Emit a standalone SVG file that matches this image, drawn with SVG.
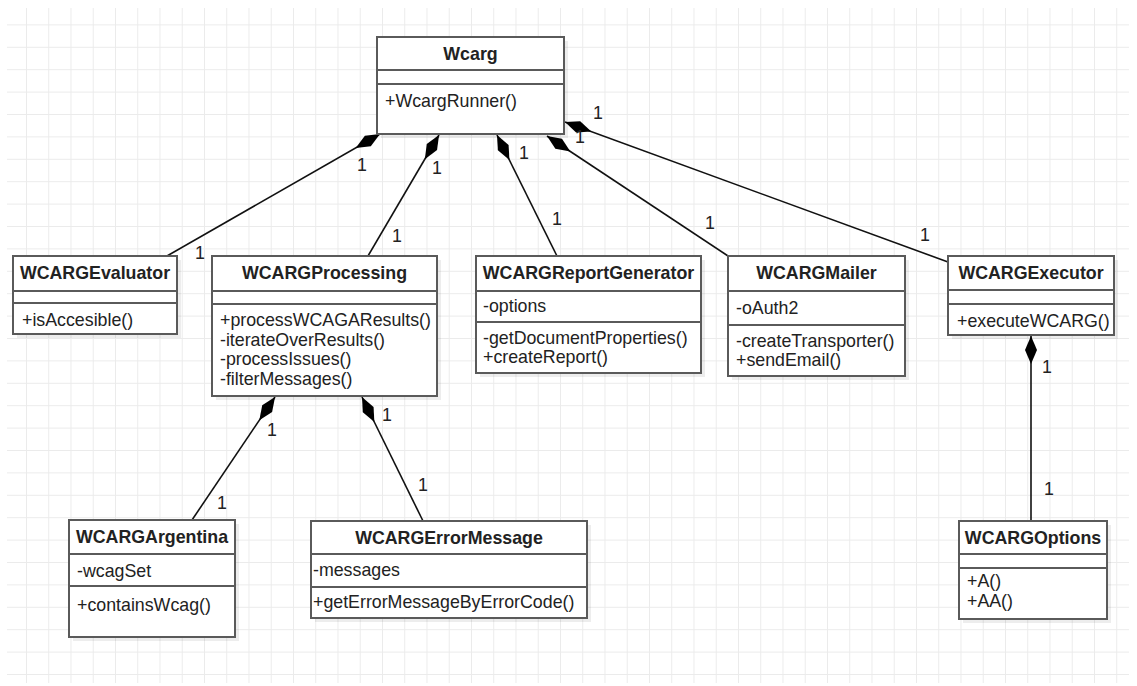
<svg xmlns="http://www.w3.org/2000/svg" width="1137" height="686" viewBox="0 0 1137 686">
<style>
.box{fill:#fff;stroke:#5a5a5a;stroke-width:2}
.shadow{fill:#000;opacity:0.07}
.div{stroke:#5a5a5a;stroke-width:2}
.t{font-family:"Liberation Sans",Arial,sans-serif;font-size:17.8px;fill:#222}
.b{font-weight:bold;text-anchor:middle}
.lbl{font-family:"Liberation Sans",Arial,sans-serif;font-size:17.8px;fill:#222;text-anchor:middle}
.conn{stroke:#111;stroke-width:1.6;fill:none;marker-start:url(#diamond)}
</style>
<defs>
<pattern id="grid" patternUnits="userSpaceOnUse" x="3.75" y="2" width="22.25" height="22.4">
<path d="M22.25 0.5 H0.5 V22.4" fill="none" stroke="#ebebeb" stroke-width="1"/>
</pattern>
<marker id="diamond" markerUnits="userSpaceOnUse" markerWidth="30" markerHeight="14" viewBox="0 -7 30 14" refX="0" refY="0" orient="auto" overflow="visible">
<path d="M0 0 L14 -6 L28 0 L14 6 Z" fill="#000"/>
</marker>
</defs>
<rect width="1137" height="686" fill="#fff"/>
<rect x="7" y="8" width="1122" height="675" fill="url(#grid)"/>

<g id="connectors">
<line class="conn" x1="380" y1="134" x2="167" y2="256"/>
<line class="conn" x1="439" y1="135" x2="368" y2="256"/>
<line class="conn" x1="497" y1="135" x2="557" y2="256"/>
<line class="conn" x1="547" y1="136" x2="728" y2="256"/>
<line class="conn" x1="565" y1="122" x2="948" y2="262"/>
<line class="conn" x1="275" y1="397" x2="192" y2="520"/>
<line class="conn" x1="362" y1="397" x2="423" y2="521"/>
<line class="conn" x1="1031" y1="336" x2="1031" y2="521"/>
<g id="labels">
<text class="lbl" x="362" y="171">1</text>
<text class="lbl" x="200" y="259">1</text>
<text class="lbl" x="437" y="174">1</text>
<text class="lbl" x="397" y="242">1</text>
<text class="lbl" x="524" y="159">1</text>
<text class="lbl" x="557" y="225">1</text>
<text class="lbl" x="580" y="143">1</text>
<text class="lbl" x="710" y="229">1</text>
<text class="lbl" x="598" y="119">1</text>
<text class="lbl" x="925" y="241">1</text>
<text class="lbl" x="272" y="436">1</text>
<text class="lbl" x="222" y="509">1</text>
<text class="lbl" x="387" y="421">1</text>
<text class="lbl" x="423" y="491">1</text>
<text class="lbl" x="1047" y="373">1</text>
<text class="lbl" x="1049" y="495">1</text>
</g>
</g>

<g id="Wcarg">
<rect class="shadow" x="381" y="41" width="187" height="97"/>
<rect class="box" x="377" y="37" width="187" height="97"/>
<line class="div" x1="377" y1="70" x2="564" y2="70"/>
<line class="div" x1="377" y1="84" x2="564" y2="84"/>
<text class="t b" x="470.5" y="60">Wcarg</text>
<text class="t" x="385" y="107">+WcargRunner()</text>
</g>

<g id="WCARGEvaluator">
<rect class="shadow" x="17" y="260" width="164" height="78"/>
<rect class="box" x="13" y="256" width="164" height="78"/>
<line class="div" x1="13" y1="291" x2="177" y2="291"/>
<line class="div" x1="13" y1="303" x2="177" y2="303"/>
<text class="t b" x="95" y="279">WCARGEvaluator</text>
<text class="t" x="22" y="326">+isAccesible()</text>
</g>

<g id="WCARGProcessing">
<rect class="shadow" x="216" y="260" width="225" height="140"/>
<rect class="box" x="212" y="256" width="225" height="140"/>
<line class="div" x1="212" y1="291" x2="437" y2="291"/>
<line class="div" x1="212" y1="304" x2="437" y2="304"/>
<text class="t b" x="324.5" y="279">WCARGProcessing</text>
<text class="t" x="220" y="326">+processWCAGAResults()</text>
<text class="t" x="220" y="345.5">-iterateOverResults()</text>
<text class="t" x="220" y="365">-processIssues()</text>
<text class="t" x="220" y="384.5">-filterMessages()</text>
</g>

<g id="WCARGReportGenerator">
<rect class="shadow" x="480" y="260" width="225" height="117"/>
<rect class="box" x="476" y="256" width="225" height="117"/>
<line class="div" x1="476" y1="291" x2="701" y2="291"/>
<line class="div" x1="476" y1="322" x2="701" y2="322"/>
<text class="t b" x="588.5" y="279">WCARGReportGenerator</text>
<text class="t" x="483" y="312">-options</text>
<text class="t" x="483" y="344">-getDocumentProperties()</text>
<text class="t" x="483" y="363">+createReport()</text>
</g>

<g id="WCARGMailer">
<rect class="shadow" x="732" y="260" width="177" height="120"/>
<rect class="box" x="728" y="256" width="177" height="120"/>
<line class="div" x1="728" y1="291" x2="905" y2="291"/>
<line class="div" x1="728" y1="325" x2="905" y2="325"/>
<text class="t b" x="816.5" y="279">WCARGMailer</text>
<text class="t" x="736" y="314">-oAuth2</text>
<text class="t" x="736" y="347">-createTransporter()</text>
<text class="t" x="736" y="366">+sendEmail()</text>
</g>

<g id="WCARGExecutor">
<rect class="shadow" x="952" y="260" width="166" height="79"/>
<rect class="box" x="948" y="256" width="166" height="79"/>
<line class="div" x1="948" y1="290" x2="1114" y2="290"/>
<line class="div" x1="948" y1="304" x2="1114" y2="304"/>
<text class="t b" x="1031" y="279">WCARGExecutor</text>
<text class="t" x="957" y="327">+executeWCARG()</text>
</g>

<g id="WCARGArgentina">
<rect class="shadow" x="73" y="524" width="166" height="117"/>
<rect class="box" x="69" y="520" width="166" height="117"/>
<line class="div" x1="69" y1="554" x2="235" y2="554"/>
<line class="div" x1="69" y1="586" x2="235" y2="586"/>
<text class="t b" x="152" y="543">WCARGArgentina</text>
<text class="t" x="77" y="577">-wcagSet</text>
<text class="t" x="77" y="611">+containsWcag()</text>
</g>

<g id="WCARGErrorMessage">
<rect class="shadow" x="315" y="525" width="276" height="97"/>
<rect class="box" x="311" y="521" width="276" height="97"/>
<line class="div" x1="311" y1="554" x2="587" y2="554"/>
<line class="div" x1="311" y1="587" x2="587" y2="587"/>
<text class="t b" x="449" y="544">WCARGErrorMessage</text>
<text class="t" x="313" y="576">-messages</text>
<text class="t" x="313" y="608">+getErrorMessageByErrorCode()</text>
</g>

<g id="WCARGOptions">
<rect class="shadow" x="963" y="525" width="148" height="98"/>
<rect class="box" x="959" y="521" width="148" height="98"/>
<line class="div" x1="959" y1="554" x2="1107" y2="554"/>
<line class="div" x1="959" y1="568" x2="1107" y2="568"/>
<text class="t b" x="1033" y="544">WCARGOptions</text>
<text class="t" x="967" y="587">+A()</text>
<text class="t" x="967" y="607">+AA()</text>
</g>
</svg>
